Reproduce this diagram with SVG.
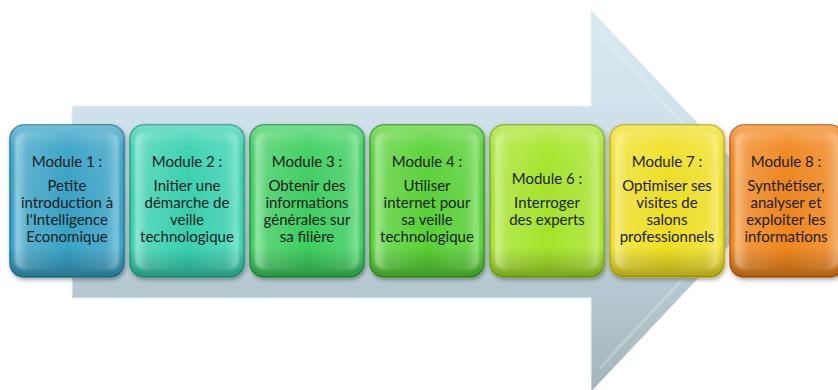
<svg xmlns="http://www.w3.org/2000/svg" width="838" height="390" viewBox="0 0 838 390">
<defs>
  <linearGradient id="arrowFill" gradientUnits="userSpaceOnUse" x1="0" y1="10" x2="0" y2="392">
    <stop offset="0" stop-color="#d8e9f1"/>
    <stop offset="0.45" stop-color="#c9dce5"/>
    <stop offset="1" stop-color="#a3b4bc"/>
  </linearGradient>
  <linearGradient id="gloss" x1="0" y1="0" x2="1" y2="0">
    <stop offset="0" stop-color="#ffffff" stop-opacity="0.5"/>
    <stop offset="0.12" stop-color="#ffffff" stop-opacity="0.15"/>
    <stop offset="0.5" stop-color="#ffffff" stop-opacity="0"/>
    <stop offset="0.88" stop-color="#ffffff" stop-opacity="0.12"/>
    <stop offset="1" stop-color="#ffffff" stop-opacity="0.4"/>
  </linearGradient>
  <linearGradient id="shade" x1="0" y1="0" x2="0" y2="1">
    <stop offset="0" stop-color="#ffffff" stop-opacity="0.3"/>
    <stop offset="0.15" stop-color="#ffffff" stop-opacity="0.05"/>
    <stop offset="0.8" stop-color="#000000" stop-opacity="0"/>
    <stop offset="1" stop-color="#000000" stop-opacity="0.28"/>
  </linearGradient>
  <filter id="shadow" x="-10%" y="-10%" width="120%" height="125%">
    <feDropShadow dx="1" dy="2" stdDeviation="2" flood-color="#000" flood-opacity="0.35"/>
  </filter>
  <filter id="soft" x="-10%" y="-10%" width="120%" height="120%">
    <feGaussianBlur stdDeviation="1.5"/>
  </filter>
</defs>
<style>
  .box { filter: url(#shadow); stroke-width: 1.5; }
  .inner { fill: url(#gloss); filter: url(#soft); }
  .shade { fill: url(#shade); }
  .lbl { font-family: Lato, "Liberation Sans", sans-serif; font-size: 15px; fill: #1c1c1c; text-anchor: middle; }
</style>
<rect width="838" height="390" fill="#ffffff"/>
<g id="arrow">
  <polygon points="72,106 591,106 591,10 771,201 591,392 591,298 72,298" fill="url(#arrowFill)" stroke="#eaf3f7" stroke-width="1"/>
  <polyline points="600,34 755,201 600,368" fill="none" stroke="#ffffff" stroke-opacity="0.22" stroke-width="3"/>
</g>
<g id="connectors"/>
<g id="m1">
  <rect class="box" x="10" y="125" width="114" height="152" rx="14" fill="#38a3c6" stroke="#237f9d"/>
  <rect class="shade" x="10" y="125" width="114" height="152" rx="14"/>
  <rect class="inner" x="15" y="132" width="104" height="138" rx="10"/>
  <text class="lbl"><tspan x="67" y="167">Module 1 :</tspan><tspan x="67" y="191">Petite</tspan><tspan x="67" y="208">introduction à</tspan><tspan x="67" y="225">l'Intelligence</tspan><tspan x="67" y="242">Economique</tspan></text>
</g>
<g id="m2">
  <rect class="box" x="130" y="125" width="114" height="152" rx="14" fill="#38d2b0" stroke="#22a286"/>
  <rect class="shade" x="130" y="125" width="114" height="152" rx="14"/>
  <rect class="inner" x="135" y="132" width="104" height="138" rx="10"/>
  <text class="lbl"><tspan x="187" y="167">Module 2 :</tspan><tspan x="187" y="191">Initier une</tspan><tspan x="187" y="208">démarche de</tspan><tspan x="187" y="225">veille</tspan><tspan x="187" y="242">technologique</tspan></text>
</g>
<g id="m3">
  <rect class="box" x="250" y="125" width="114" height="152" rx="14" fill="#3dcf60" stroke="#239b3d"/>
  <rect class="shade" x="250" y="125" width="114" height="152" rx="14"/>
  <rect class="inner" x="255" y="132" width="104" height="138" rx="10"/>
  <text class="lbl"><tspan x="307" y="167">Module 3 :</tspan><tspan x="307" y="191">Obtenir des</tspan><tspan x="307" y="208">informations</tspan><tspan x="307" y="225">générales sur</tspan><tspan x="307" y="242">sa filière</tspan></text>
</g>
<g id="m4">
  <rect class="box" x="370" y="125" width="114" height="152" rx="14" fill="#58d236" stroke="#36a01d"/>
  <rect class="shade" x="370" y="125" width="114" height="152" rx="14"/>
  <rect class="inner" x="375" y="132" width="104" height="138" rx="10"/>
  <text class="lbl"><tspan x="427" y="167">Module 4 :</tspan><tspan x="427" y="191">Utiliser</tspan><tspan x="427" y="208">internet pour</tspan><tspan x="427" y="225">sa veille</tspan><tspan x="427" y="242">technologique</tspan></text>
</g>
<g id="m6">
  <rect class="box" x="490" y="125" width="114" height="152" rx="14" fill="#a6e52c" stroke="#7db417"/>
  <rect class="shade" x="490" y="125" width="114" height="152" rx="14"/>
  <rect class="inner" x="495" y="132" width="104" height="138" rx="10"/>
  <text class="lbl"><tspan x="547" y="184">Module 6 :</tspan><tspan x="547" y="208">Interroger</tspan><tspan x="547" y="225">des experts</tspan></text>
</g>
<g id="m7">
  <rect class="box" x="610" y="125" width="114" height="152" rx="14" fill="#f0e022" stroke="#c2b10c"/>
  <rect class="shade" x="610" y="125" width="114" height="152" rx="14"/>
  <rect class="inner" x="615" y="132" width="104" height="138" rx="10"/>
  <text class="lbl"><tspan x="667" y="167">Module 7 :</tspan><tspan x="667" y="191">Optimiser ses</tspan><tspan x="667" y="208">visites de</tspan><tspan x="667" y="225">salons</tspan><tspan x="667" y="242">professionnels</tspan></text>
</g>
<g id="m8">
  <rect class="box" x="730" y="125" width="114" height="152" rx="14" fill="#f0861c" stroke="#c1600c"/>
  <rect class="shade" x="730" y="125" width="114" height="152" rx="14"/>
  <rect class="inner" x="735" y="132" width="104" height="138" rx="10"/>
  <text class="lbl"><tspan x="786" y="167">Module 8 :</tspan><tspan x="786" y="191">Synthétiser,</tspan><tspan x="786" y="208">analyser et</tspan><tspan x="786" y="225">exploiter les</tspan><tspan x="786" y="242">informations</tspan></text>
</g>
</svg>
